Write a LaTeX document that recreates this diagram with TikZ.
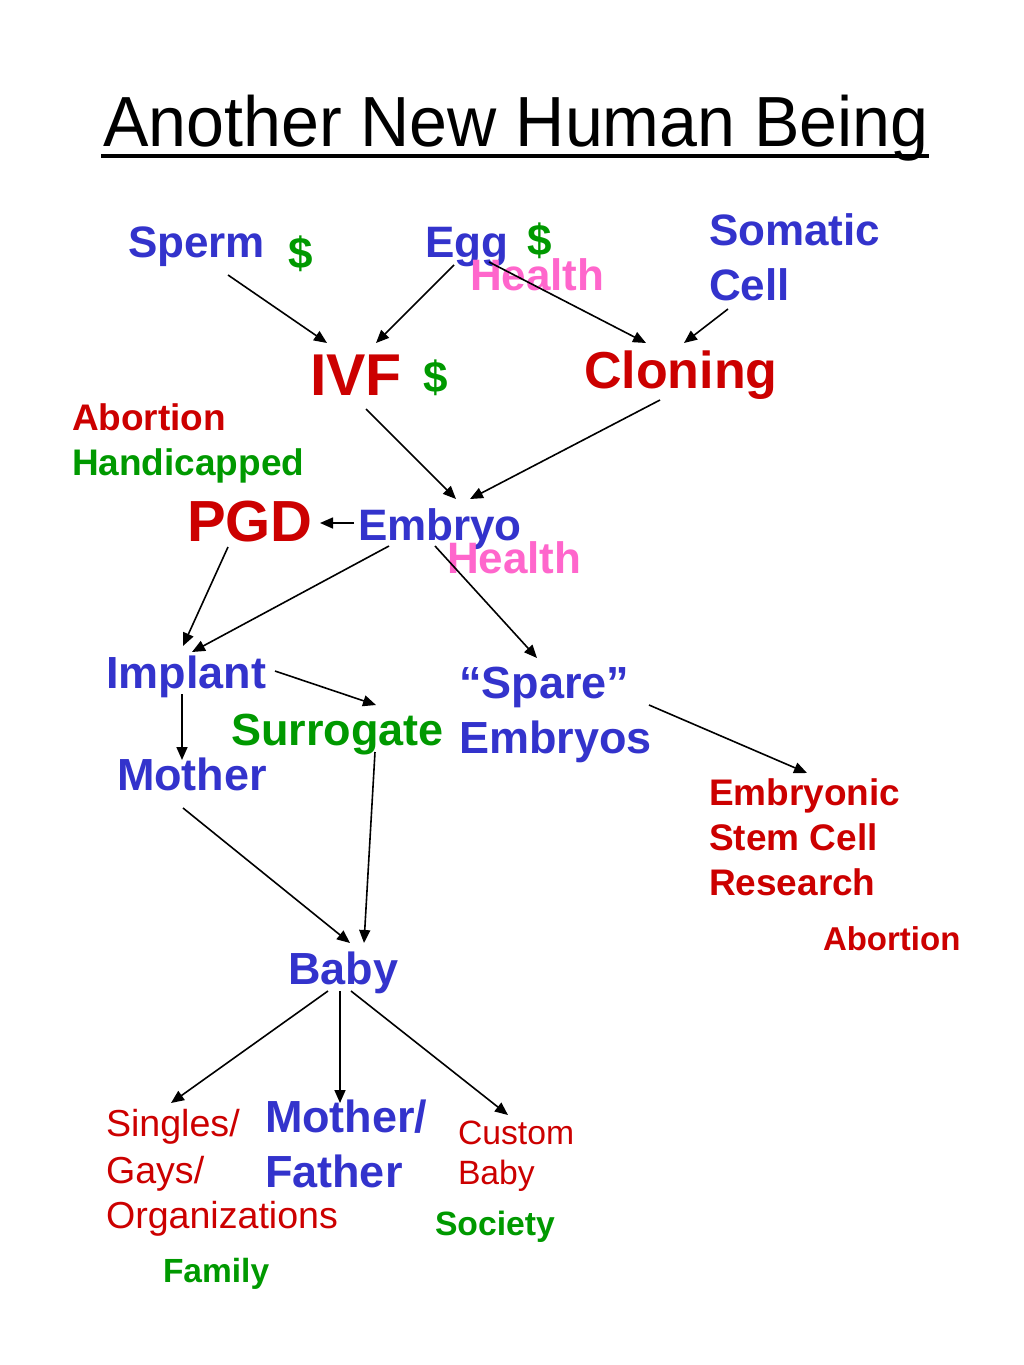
\documentclass[tikz,border=0pt]{standalone}
\usepackage{fontspec}
\setmainfont{Liberation Sans}
\usetikzlibrary{arrows.meta}
\definecolor{cblue}{HTML}{3333CC}
\definecolor{cred}{HTML}{CC0000}
\definecolor{cgreen}{HTML}{009900}
\definecolor{cpink}{HTML}{FF66CC}
\tikzset{
  lbl/.style={anchor=base west, inner sep=0pt, outer sep=0pt},
  bfs/.style={lbl, font=\fontsize{#1}{#1}\selectfont\bfseries},
  rfs/.style={lbl, font=\fontsize{#1}{#1}\selectfont},
  arr/.style={line width=1.6pt, draw=black, -{Triangle[length=13pt,width=11pt]}}
}
\begin{document}
\begin{tikzpicture}[x=1pt,y=-1pt]
\fill[white] (0,0) rectangle (1024,1365);
\useasboundingbox (0,0) rectangle (1024,1365);
% title
\node[rfs=71] (title) at (103,146) {\scalebox{0.96}[1]{Another New Human Being}};
\draw[line width=4pt] ([shift={(-2,10)}]title.base west) -- ([shift={(0,10)}]title.base east);
% top row
\node[bfs=44, text=cblue] (sperm) at (128,257) {Sperm};
\node[bfs=44, text=cgreen] (dol1) at (288,268) {\$};
\node[bfs=44, text=cblue] (egg) at (425,257) {Egg};
\node[bfs=44, text=cgreen] (dol2) at (527,255) {\$};
\node[bfs=44, text=cpink] (health1) at (470,290) {Health};
\node[bfs=44, text=cblue] (somatic) at (709,245) {Somatic};
\node[bfs=44, text=cblue] (cell) at (709,300) {Cell};
% second row
\node[bfs=59, text=cred] (ivf) at (310,395) {IVF};
\node[bfs=44, text=cgreen] (dol3) at (423,392) {\$};
\node[bfs=52, text=cred] (cloning) at (584,388) {Cloning};
\node[bfs=37, text=cred] (abort1) at (72,430) {Abortion};
\node[bfs=37, text=cgreen] (handi) at (72,475) {Handicapped};
% embryo row
\node[bfs=58, text=cred] (pgd) at (187,541) {PGD};
\node[bfs=44, text=cblue] (embryo) at (358,540) {Embryo};
\node[bfs=44, text=cpink] (health2) at (447,573) {Health};
% implant row
\node[bfs=45, text=cblue] (implant) at (106,688) {Implant};
\node[bfs=45, text=cblue] (spare) at (459,698) {“Spare”};
\node[bfs=45, text=cblue] (embryos) at (459,753) {Embryos};
\node[bfs=45, text=cgreen] (surrogate) at (231,745) {Surrogate};
\node[bfs=45, text=cblue] (mother) at (117,790) {Mother};
\node[bfs=37, text=cred] (embryonic) at (709,805) {Embryonic};
\node[bfs=37, text=cred] (stem) at (709,850) {Stem Cell};
\node[bfs=37, text=cred] (research) at (709,895) {Research};
\node[bfs=33, text=cred] (abort2) at (823,950) {Abortion};
% baby
\node[bfs=45, text=cblue] (baby) at (288,984) {Baby};
\node[rfs=37.6, text=cred] (singles) at (106,1136) {Singles/};
\node[rfs=37.6, text=cred] (gays) at (106,1183) {Gays/};
\node[rfs=37.6, text=cred] (orgs) at (106,1228) {Organizations};
\node[bfs=45, text=cblue] (motherf) at (265,1132) {Mother/};
\node[bfs=45, text=cblue] (father) at (265,1187) {Father};
\node[rfs=33.7, text=cred] (custom) at (458,1144) {Custom};
\node[rfs=33.7, text=cred] (cbaby) at (458,1184) {Baby};
\node[bfs=33.7, text=cgreen] (society) at (435,1235) {Society};
\node[bfs=33.5, text=cgreen] (family) at (163,1282) {Family};
% connectors
\draw[arr] ([shift={(100,18)}]sperm.base west) -- ([shift={(17,-52)}]ivf.base west);
\draw[arr] ([shift={(29,8)}]egg.base west) -- ([shift={(66,-52)}]ivf.base west);
\draw[arr] ([shift={(64,5)}]egg.base west) -- ([shift={(62,-45)}]cloning.base west);
\draw[arr] ([shift={(19,9)}]cell.base west) -- ([shift={(100,-45)}]cloning.base west);
\draw[arr] ([shift={(56,14)}]ivf.base west) -- ([shift={(98,-41)}]embryo.base west);
\draw[arr] ([shift={(76,12)}]cloning.base west) -- ([shift={(112,-41)}]embryo.base west);
\draw[arr] ([shift={(-4,-17)}]embryo.base west) -- ([shift={(133,-18)}]pgd.base west);
\draw[arr] ([shift={(41,6)}]pgd.base west) -- ([shift={(77,-42)}]implant.base west);
\draw[arr] ([shift={(31,6)}]embryo.base west) -- ([shift={(86,-36)}]implant.base west);
\draw[arr] ([shift={(77,6)}]embryo.base west) -- ([shift={(78,-40)}]spare.base west);
\draw[arr] ([shift={(169,-17)}]implant.base west) -- ([shift={(145,-40)}]surrogate.base west);
\draw[arr] ([shift={(76,6)}]implant.base west) -- ([shift={(65,-30)}]mother.base west);
\draw[arr] ([shift={(190,-48)}]embryos.base west) -- ([shift={(98,-32)}]embryonic.base west);
\draw[arr] ([shift={(66,18)}]mother.base west) -- ([shift={(62,-41)}]baby.base west);
\draw[arr] ([shift={(144,7)}]surrogate.base west) -- ([shift={(76,-41)}]baby.base west);
\draw[arr] ([shift={(40,7)}]baby.base west) -- ([shift={(65,-33)}]singles.base west);
\draw[arr] ([shift={(52,7)}]baby.base west) -- ([shift={(75,-29)}]motherf.base west);
\draw[arr] ([shift={(63,7)}]baby.base west) -- ([shift={(50,-29)}]custom.base west);
\end{tikzpicture}
\end{document}
